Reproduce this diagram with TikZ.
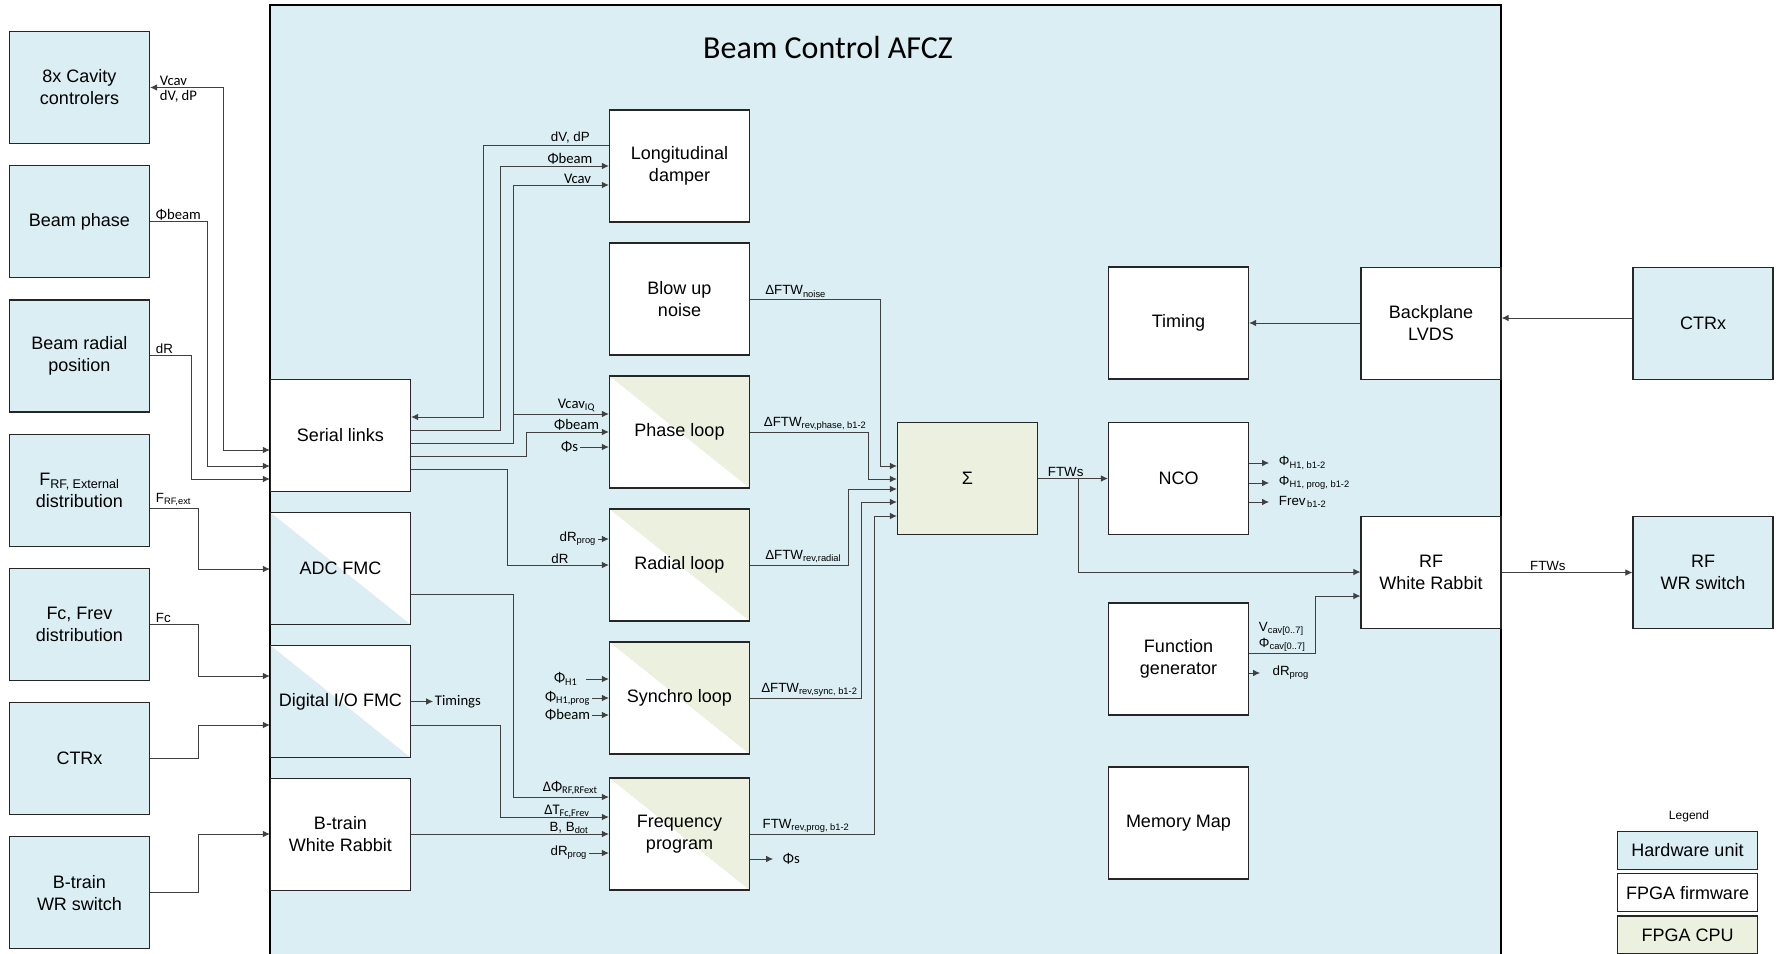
\documentclass[tikz,border=0pt]{standalone}
\usepackage{fontspec}
\setmainfont{Liberation Sans}
\newfontfamily\calibri{Carlito}
\usetikzlibrary{arrows.meta, positioning}

\definecolor{hwblue}{HTML}{DAEEF3}
\definecolor{cpugreen}{HTML}{EBF1DE}

\newcommand{\lsub}[1]{\textsubscript{#1}}

\begin{document}
\begin{tikzpicture}[
      x=0.75pt, y=-0.75pt,
      >={Latex[length=5.25pt,width=5pt]},
      node distance=15.75pt,
      box/.style={rectangle, draw=black!85, line width=0.9pt, minimum width=105pt,
        minimum height=84pt, inner sep=0pt, align=center,
        font=\fontsize{13.5}{16.5}\selectfont},
      hw/.style={box, fill=hwblue},
      fw/.style={box, fill=white},
      cpu/.style={box, fill=cpugreen},
      hwfw/.style={box, fill=white, path picture={
        \fill[hwblue] (path picture bounding box.north west) -- (path picture bounding box.south west)
          -- (path picture bounding box.south east) -- cycle;}},
      fwcpu/.style={box, fill=white, path picture={
        \fill[cpugreen] (path picture bounding box.north west) -- (path picture bounding box.north east)
          -- (path picture bounding box.south east) -- cycle;}},
      wire/.style={draw=black!75, line width=0.75pt},
      lbl/.style={font=\fontsize{10}{11.5}\selectfont, inner sep=1pt},
      clbl/.style={font=\calibri\fontsize{11}{12.5}\selectfont, inner sep=1pt}
    ]
  \useasboundingbox (0,0) rectangle (1781,953);

  % AFCZ frame
  \draw[fill=hwblue, line width=0.9pt] (270,5) rectangle (1501,1000);
  \node[font=\calibri\fontsize{24}{28}\selectfont] (title) at (828,48) {Beam Control AFCZ};

  % external hardware
  \node[hw] (cav) at (79.5,87.5) {8x Cavity\\controlers};
  \node[hw, below=of cav] (bphase) {Beam phase};
  \node[hw, below=of bphase] (brad) {Beam radial\\position};
  \node[hw, below=of brad] (frf) {F\lsub{RF, External}\\distribution};
  \node[hw, below=of frf] (fc) {Fc, Frev\\distribution};
  \node[hw, below=of fc] (ctrxa) {CTRx};
  \node[hw, below=of ctrxa] (bwrsw) {B-train\\WR switch};

  % interfaces
  \node[fw] (serial) at (340.5,435.5) {Serial links};
  \node[hwfw, below=14.85pt of serial] (adc) {ADC FMC};
  \node[hwfw, below=14.85pt of adc] (dio) {Digital I/O FMC};
  \node[fw, below=14.85pt of dio] (btrain) {B-train\\White Rabbit};

  % loops
  \node[fw] (ldamp) at (679.5,166) {Longitudinal\\damper};
  \node[fw, below=14.85pt of ldamp] (blowup) {Blow up\\noise};
  \node[fwcpu, below=14.85pt of blowup] (phase) {Phase loop};
  \node[fwcpu, below=14.85pt of phase] (radial) {Radial loop};
  \node[fwcpu, below=14.85pt of radial] (synchro) {Synchro loop};
  \node[fwcpu] (freq) at (679.5,834) {Frequency\\program};

  \node[cpu] (sum) at (967.5,478.5) {Σ};
  \node[fw] (timing) at (1178.5,323) {Timing};
  \node[fw] (nco) at (1178.5,478.5) {NCO};
  \node[fw] (fgen) at (1178.5,659) {Function\\generator};
  \node[fw] (memmap) at (1178.5,823) {Memory Map};
  \node[fw] (bplane) at (1431,323.5) {Backplane\\LVDS};
  \node[fw] (rfwr) at (1431,572.5) {RF\\White Rabbit};
  \node[hw] (ctrxb) at (1703,323.5) {CTRx};
  \node[hw] (rfsw) at (1703,572.5) {RF\\WR switch};

  % legend
  \node[font=\fontsize{9}{11}\selectfont] (legend) at (1689,816) {Legend};
  \node[hw, minimum height=28.5pt] (leghw) at (1687.5,850.5) {Hardware unit};
  \node[fw, minimum height=28.5pt, below=2.25pt of leghw] (legfw) {FPGA firmware};
  \node[cpu, minimum height=28.5pt, below=2.25pt of legfw] (legcpu) {FPGA CPU};

  % hardware -> interfaces
  \draw[wire, <->] (cav.east) node[clbl, above right=0pt and 6pt]{Vcav}
    node[clbl, below right=1pt and 6pt]{dV, dP} -| (223,450) -- (serial.west |- 0,450);
  \draw[wire, ->] (bphase.east) node[clbl, above right=0pt and 3pt]{Φbeam} -| (207,466) -- (serial.west |- 0,466);
  \draw[wire, ->] (brad.east) node[lbl, above right=0pt and 3pt]{dR} -| (191,479) -- (serial.west |- 0,479);
  \draw[wire, ->] (frf.east |- 0,508) node[lbl, above right=0pt and 3pt]{F\lsub{RF,ext}} -| (198,569) -- (adc.west |- 0,569);
  \draw[wire, ->] (fc.east) node[lbl, above right=0pt and 3pt]{Fc} -| (198,676) -- (dio.west |- 0,676);
  \draw[wire, ->] (ctrxa.east) -| (198,725) -- (dio.west |- 0,725);
  \draw[wire, ->] (bwrsw.east) -| (198,834) -- (btrain.west |- 0,834);

  % serial links <-> loops
  \draw[wire, ->] (ldamp.west |- 0,145) node[lbl, above left=0pt and 13pt]{dV, dP} -- (483,145) |- (serial.east |- 0,417);
  \draw[wire, ->] (serial.east |- 0,430) -| (500,166) -- (ldamp.west |- 0,166) node[clbl, above left=0pt and 11pt]{Φbeam};
  \draw[wire, ->] (serial.east |- 0,443) -| (513,185) -- (ldamp.west |- 0,185) node[clbl, above left=0pt and 12pt]{Vcav};
  \draw[wire, ->] (513,414) -- (phase.west |- 0,414) node[clbl, above left=0pt and 9pt]{Vcav\lsub{IQ}};
  \draw[wire, ->] (serial.east |- 0,456) -| (526,432) -- (phase.west |- 0,432) node[clbl, above left=0pt and 6pt]{Φbeam};
  \draw[wire, <-] (phase.west |- 0,447) -- ++(-29,0) node[clbl, left]{Φs};
  \draw[wire, ->] (serial.east |- 0,469) -| (507,565) -- (radial.west |- 0,565) node[lbl, above left=0pt and 29pt]{dR};
  \draw[wire, <-] (radial.west |- 0,539) -- ++(-11,0) node[lbl, left]{dR\lsub{prog}};

  % synchro loop inputs
  \draw[wire, <-] (synchro.west |- 0,679) -- ++(-23,0) node[clbl, left=5pt]{Φ\lsub{H1}};
  \draw[wire, <-] (synchro.west |- 0,698) -- ++(-17,0) node[clbl, left]{Φ\lsub{H1,prog}};
  \draw[wire, <-] (synchro.west |- 0,715) -- ++(-17,0) node[clbl, left]{Φbeam};

  % frequency program
  \draw[wire, ->] (adc.east |- 0,594) -| (513,797) -- (freq.west |- 0,797) node[clbl, above left=0pt and 7pt]{ΔΦ\lsub{RF,RFext}};
  \draw[wire, ->] (dio.east |- 0,725) -| (500,817) -- (freq.west |- 0,817) node[clbl, above left=-2pt and 13pt]{ΔT\lsub{Fc,Frev}};
  \draw[wire, ->] (btrain.east |- 0,834) -- (freq.west |- 0,834) node[lbl, above left=-1pt and 14pt]{B, B\lsub{dot}};
  \draw[wire, <-] (freq.west |- 0,853) -- ++(-20,0) node[lbl, left]{dR\lsub{prog}};
  \draw[wire, ->] (freq.east |- 0,859) -- ++(23,0) node[clbl, right=6pt]{Φs};
  \draw[wire, ->] (dio.east) -- ++(22,0) node[clbl, right]{Timings};

  % loops -> sum
  \draw[wire, ->] (blowup.east) node[lbl, above right=0pt and 10pt]{ΔFTW\lsub{noise}} -| (880,466) -- (sum.west |- 0,466);
  \draw[wire, ->] (phase.east |- 0,432) node[lbl, above right=0pt and 9pt]{ΔFTW\lsub{rev,phase, b1-2}} -| (868,479) -- (sum.west |- 0,479);
  \draw[wire, ->] (radial.east |- 0,565) node[lbl, above right=0pt and 10pt]{ΔFTW\lsub{rev,radial}} -| (848,489) -- (sum.west |- 0,489);
  \draw[wire, ->] (synchro.east |- 0,698) node[lbl, above right=0pt and 7pt]{ΔFTW\lsub{rev,sync, b1-2}} -| (861,502) -- (sum.west |- 0,502);
  \draw[wire, ->] (freq.east |- 0,834) node[lbl, above right=0pt and 8pt]{FTW\lsub{rev,prog, b1-2}} -| (874,516) -- (sum.west |- 0,516);

  % sum -> NCO / RF White Rabbit
  \draw[wire, ->] (sum.east) node[lbl, above right=0pt and 6pt]{FTWs} -- (nco.west);
  \draw[wire, ->] (1078,478.5) |- (rfwr.west |- 0,572);
  \draw[wire, ->] (nco.east |- 0,463) -- ++(20,0) node[lbl, right=6pt]{Φ\lsub{H1, b1-2}};
  \draw[wire, ->] (nco.east |- 0,483) -- ++(20,0) node[lbl, right=6pt]{Φ\lsub{H1, prog, b1-2}};
  \draw[wire, ->] (nco.east |- 0,502) -- ++(20,0) node[lbl, right=6pt]{Frev\lsub{\,b1-2}};
  \draw[wire, ->] (fgen.east |- 0,653) node[lbl, above right=0pt and 6pt, align=left]{V\lsub{cav[0..7]}\\Φ\lsub{cav[0..7]}}
    -| (1315,596) -- (rfwr.west |- 0,596);
  \draw[wire, ->] (fgen.east |- 0,673) -- ++(11,0) node[lbl, right=8pt]{dR\lsub{prog}};

  % timing and white rabbit links
  \draw[wire, ->] (bplane.west |- 0,323) -- (timing.east |- 0,323);
  \draw[wire, ->] (ctrxb.west |- 0,318) -- (bplane.east |- 0,318);
  \draw[wire, ->] (rfwr.east) node[lbl, above right=0pt and 20pt]{FTWs} -- (rfsw.west);
\end{tikzpicture}
\end{document}
